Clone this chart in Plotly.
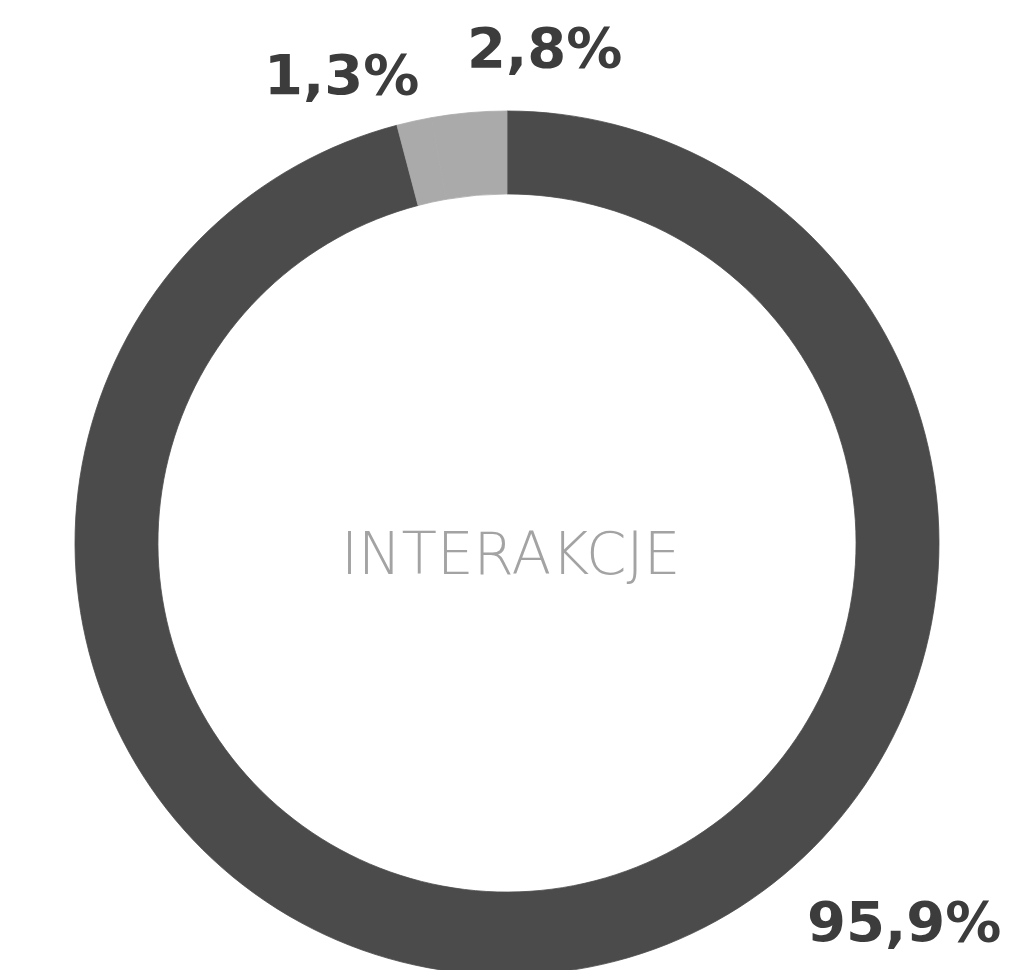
import plotly.graph_objects as go

categories = ["A", "B", "C"]
values = [95.9, 1.3, 2.8]
label_texts = ["95,9%", "1,3%", "2,8%"]
center_text = "INTERAKCJE"

colors = ["#4b4b4b", "#aaaaaa", "#aaaaaa"]

W, H = 1024, 970
cx, cy, R = 499, 535, 432

fig = go.Figure(go.Pie(
    labels=categories,
    values=values,
    sort=False,
    direction="clockwise",
    rotation=0,
    hole=0.808,
    textinfo="none",
    hoverinfo="label+value",
    marker=dict(colors=colors, line=dict(width=0.8, color=colors)),
    showlegend=False,
    domain=dict(x=[(cx - R) / W, (cx + R) / W], y=[(H - cy - R) / H, (H - cy + R) / H]),
))

label_pos = [(896, 913), (333, 67), (536, 40)]
annotations = []
for txt, (px, py) in zip(label_texts, label_pos):
    annotations.append(dict(
        text=txt, x=px / W, y=1 - py / H, xref="paper", yref="paper",
        xanchor="center", yanchor="middle", showarrow=False,
        font=dict(family="DejaVu Sans", size=56, color="#3c3c3c", weight="bold"),
    ))
annotations.append(dict(
    text=center_text, x=502 / W, y=1 - 546 / H, xref="paper", yref="paper",
    xanchor="center", yanchor="middle", showarrow=False,
    font=dict(family="DejaVu Sans", size=58, color="#a3a3a3", weight=200),
))

fig.update_layout(
    width=W, height=H,
    margin=dict(l=0, r=0, t=0, b=0),
    paper_bgcolor="white", plot_bgcolor="white",
    annotations=annotations,
)

fig.write_html("out.html")
